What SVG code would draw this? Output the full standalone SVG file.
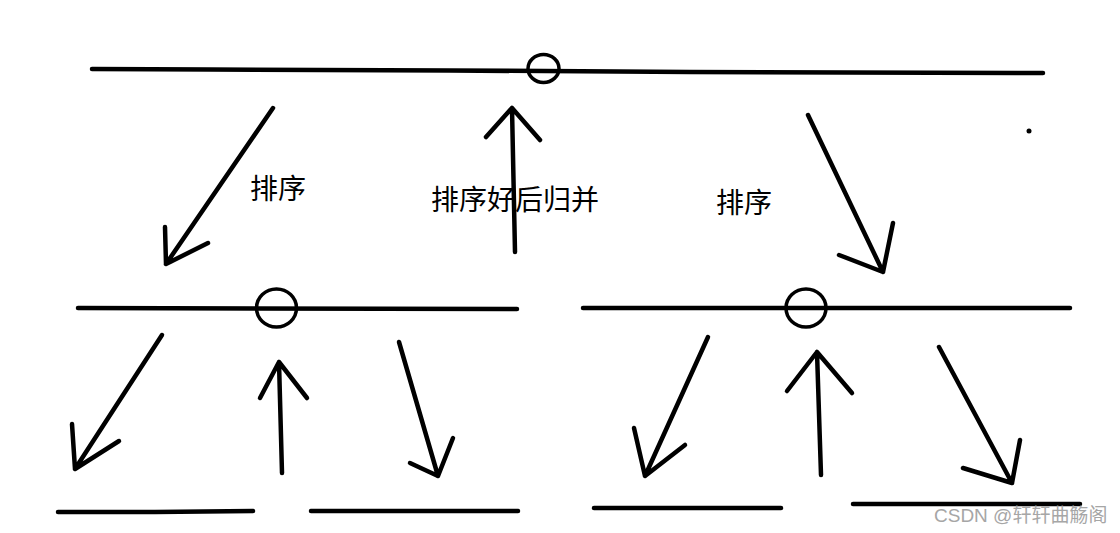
<svg xmlns="http://www.w3.org/2000/svg" width="1120" height="533" viewBox="0 0 1120 533">
<style>
.ln{fill:none;stroke:#000;stroke-width:4.5;stroke-linecap:round;stroke-linejoin:round}
.cr{fill:none;stroke:#000;stroke-width:3.5}
.lb{font-family:"Noto Sans CJK SC","Noto Sans",sans-serif;font-size:28px;fill:#000}
.wm{font-family:"Liberation Sans","Noto Sans CJK SC",sans-serif;font-size:19px;fill:#a6a6a6}
</style>
<rect width="1120" height="533" fill="#fff"/>
<g id="level0">
<polyline class="ln" points="92,69 210,69.5 450,70.5 690,72 1043,73"/>
<ellipse class="cr" cx="543.5" cy="68.5" rx="15.5" ry="14"/>
<circle cx="1029" cy="131" r="2.5" fill="#000"/>
</g>
<g id="level1-left">
<line class="ln" x1="78" y1="308" x2="517" y2="309"/>
<ellipse class="cr" cx="276.5" cy="308" rx="20" ry="19"/>
</g>
<g id="level1-right">
<line class="ln" x1="583" y1="308" x2="1070" y2="308"/>
<ellipse class="cr" cx="806" cy="308" rx="20" ry="19"/>
</g>
<g id="level2">
<polyline class="ln" points="58,512 155,512 253,511"/>
<line class="ln" x1="311" y1="511" x2="518" y2="511"/>
<line class="ln" x1="594" y1="508" x2="781" y2="508"/>
<line class="ln" x1="853" y1="504" x2="1080" y2="504"/>
</g>
<g id="labels">
<text class="lb" x="250" y="199">排序</text>
<text class="lb" x="431" y="210">排序好后归并</text>
<text class="lb" x="716" y="213">排序</text>
</g>
<g id="connectors">
<path class="ln" d="M273,108 L166,264 M165,227 L166,264 L208,243"/>
<path class="ln" d="M515,252 L512,108 M486,137 L512,108 L540,140"/>
<path class="ln" d="M808,115 L883,272 M893,223 L883,272 L839,255"/>
<path class="ln" d="M162,335 L75,469 M72,424 L75,469 L119,441"/>
<path class="ln" d="M282,473 L279,362 M260,398 L279,362 L307,398"/>
<path class="ln" d="M399,342 L438,476 M453,438 L438,476 L410,463"/>
<path class="ln" d="M708,337 L645,476 M634,428 L645,476 L685,445"/>
<path class="ln" d="M821,475 L817,352 M787,391 L817,352 L852,393"/>
<path class="ln" d="M939,347 L1012,483 M1020,440 L1012,483 L963,468"/>
</g>
<text class="wm" x="934" y="522">CSDN @轩轩曲觞阁</text>
</svg>
